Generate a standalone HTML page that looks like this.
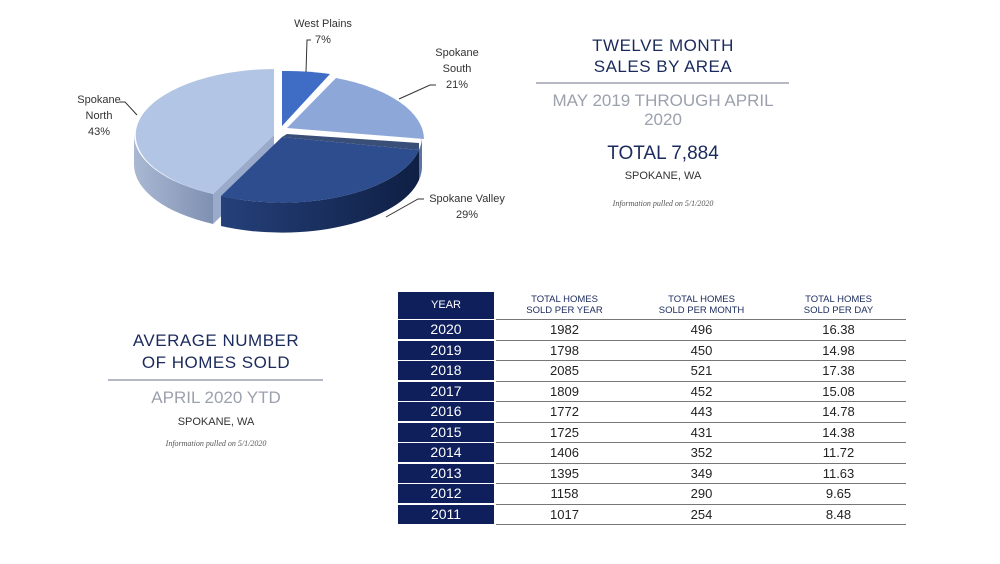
<!DOCTYPE html>
<html><head><meta charset="utf-8"><style>
body{margin:0;width:1000px;height:564px;background:#fff;position:relative;overflow:hidden;font-family:"Liberation Sans",sans-serif}
.t{position:absolute;text-align:center;white-space:nowrap}
.navy{color:#1b2a5c}
.grey{color:#9ba1ad}
.info{font-family:"Liberation Serif",serif;font-style:italic;font-size:8px;color:#555}
.yc{position:absolute;left:398px;width:96px;background:#0e1f5c;color:#fff;text-align:center;font-size:14px}
.row{position:absolute;left:496px;width:410px;border-bottom:1px solid #777;font-size:13px;color:#222}
.row span,.hd span{position:absolute;text-align:center;width:137px}
.hd{position:absolute;left:496px;width:410px;top:292px;height:27px;border-bottom:1px solid #777;font-size:9.5px;line-height:11px;color:#1b2a5c}
</style></head><body>
<svg width="1000" height="564" style="position:absolute;left:0;top:0">
<defs>
<linearGradient id="gv" x1="0" x2="1"><stop offset="0" stop-color="#25407a"/><stop offset="1" stop-color="#0f1f44"/></linearGradient>
<linearGradient id="gn" x1="0" x2="1"><stop offset="0" stop-color="#a9b8d3"/><stop offset="1" stop-color="#7f90b1"/></linearGradient>
</defs>
<path d="M213,194 A140,66 0 0 1 134,135 L134,165 A140,66 0 0 0 213,224 Z" fill="url(#gn)"/>
<path d="M274,135 L213,194 L213,224 L274,165 Z" fill="#9aaacb"/>
<path d="M274,135 L213,194 A140,66 0 0 1 274,69 Z" fill="#b3c5e4"/>
<path d="M422,137 A140,66 0 0 1 419,150 L419,180 A140,66 0 0 0 422,167 Z" fill="#5d74a3"/>
<path d="M419,150 A140,66 0 0 1 221,196 L221,226 A140,66 0 0 0 419,180 Z" fill="url(#gv)"/>
<path d="M282,137 L419,150 A140,66 0 0 1 221,196 Z" fill="#2d4d8f"/>
<path d="M282,137 L419,150 L419,143 L287,134 Z" fill="#3a4f78"/>
<path d="M287,128 L336,78 A140,66 0 0 1 424,139 Z" fill="#8ea7d9"/>
<path d="M282,126 L282,71 A140,66 0 0 1 330,74 Z" fill="#3f6cc4"/>
<g stroke="#333" stroke-width="1" fill="none">
<polyline points="306,72 307,40 311,40"/>
<polyline points="399,99 430,85 436,85"/>
<polyline points="137,115 125,102 120,102"/>
<polyline points="386,217 418,199 424,199"/>
</g>
<line x1="536" y1="83" x2="789" y2="83" stroke="#6b7184"/>
<line x1="108" y1="380" x2="323" y2="380" stroke="#6b7184"/>
</svg>
<div class="t" style="left:273px;top:16px;width:100px;font-size:11px;line-height:16px;color:#333">West Plains<br>7%</div>
<div class="t" style="left:420px;top:45px;width:74px;font-size:11px;line-height:16px;color:#333">Spokane<br>South<br>21%</div>
<div class="t" style="left:60px;top:92px;width:78px;font-size:11px;line-height:16px;color:#333">Spokane<br>North<br>43%</div>
<div class="t" style="left:412px;top:191px;width:110px;font-size:11px;line-height:16px;color:#333">Spokane Valley<br>29%</div>

<div class="t navy" style="left:513px;top:35px;width:300px;font-size:17px;line-height:21px;letter-spacing:0.5px">TWELVE MONTH<br>SALES BY AREA</div>
<div class="t grey" style="left:513px;top:91px;width:300px;font-size:17px;line-height:19px">MAY 2019 THROUGH APRIL<br>2020</div>
<div class="t navy" style="left:513px;top:143px;width:300px;font-size:19px">TOTAL 7,884</div>
<div class="t" style="left:513px;top:170px;width:300px;font-size:11px;color:#333">SPOKANE, WA</div>
<div class="t info" style="left:513px;top:199px;width:300px">Information pulled on 5/1/2020</div>

<div class="t navy" style="left:66px;top:330px;width:300px;font-size:17px;line-height:22px;letter-spacing:0.5px">AVERAGE NUMBER<br>OF HOMES SOLD</div>
<div class="t grey" style="left:66px;top:388px;width:300px;font-size:17px">APRIL 2020 YTD</div>
<div class="t" style="left:66px;top:416px;width:300px;font-size:11px;color:#333">SPOKANE, WA</div>
<div class="t info" style="left:66px;top:439px;width:300px">Information pulled on 5/1/2020</div>

<div class="yc" style="top:292px;height:27px;line-height:27px;font-size:11px">YEAR</div>
<div class="hd"><span style="left:0;top:2px">TOTAL HOMES<br>SOLD PER YEAR</span><span style="left:137px;top:2px">TOTAL HOMES<br>SOLD PER MONTH</span><span style="left:274px;top:2px">TOTAL HOMES<br>SOLD PER DAY</span></div>

<div class="yc" style="top:320px;height:19px;line-height:19px">2020</div><div class="row" style="top:320px;height:19.5px;line-height:19px"><span style="left:0">1982</span><span style="left:137px">496</span><span style="left:274px">16.38</span></div>
<div class="yc" style="top:340.5px;height:19px;line-height:19px">2019</div><div class="row" style="top:340.5px;height:19.5px;line-height:19px"><span style="left:0">1798</span><span style="left:137px">450</span><span style="left:274px">14.98</span></div>
<div class="yc" style="top:361px;height:19px;line-height:19px">2018</div><div class="row" style="top:361px;height:19.5px;line-height:19px"><span style="left:0">2085</span><span style="left:137px">521</span><span style="left:274px">17.38</span></div>
<div class="yc" style="top:381.5px;height:19px;line-height:19px">2017</div><div class="row" style="top:381.5px;height:19.5px;line-height:19px"><span style="left:0">1809</span><span style="left:137px">452</span><span style="left:274px">15.08</span></div>
<div class="yc" style="top:402px;height:19px;line-height:19px">2016</div><div class="row" style="top:402px;height:19.5px;line-height:19px"><span style="left:0">1772</span><span style="left:137px">443</span><span style="left:274px">14.78</span></div>
<div class="yc" style="top:422.5px;height:19px;line-height:19px">2015</div><div class="row" style="top:422.5px;height:19.5px;line-height:19px"><span style="left:0">1725</span><span style="left:137px">431</span><span style="left:274px">14.38</span></div>
<div class="yc" style="top:443px;height:19px;line-height:19px">2014</div><div class="row" style="top:443px;height:19.5px;line-height:19px"><span style="left:0">1406</span><span style="left:137px">352</span><span style="left:274px">11.72</span></div>
<div class="yc" style="top:463.5px;height:19px;line-height:19px">2013</div><div class="row" style="top:463.5px;height:19.5px;line-height:19px"><span style="left:0">1395</span><span style="left:137px">349</span><span style="left:274px">11.63</span></div>
<div class="yc" style="top:484px;height:19px;line-height:19px">2012</div><div class="row" style="top:484px;height:19.5px;line-height:19px"><span style="left:0">1158</span><span style="left:137px">290</span><span style="left:274px">9.65</span></div>
<div class="yc" style="top:504.5px;height:19px;line-height:19px">2011</div><div class="row" style="top:504.5px;height:19.5px;line-height:19px"><span style="left:0">1017</span><span style="left:137px">254</span><span style="left:274px">8.48</span></div>
</body></html>
